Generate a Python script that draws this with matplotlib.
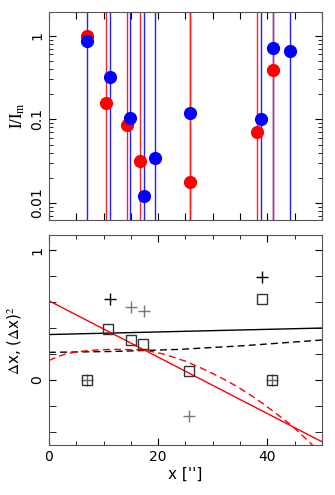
import numpy as np
import matplotlib
matplotlib.use("Agg")
import matplotlib.pyplot as plt
from matplotlib.ticker import MultipleLocator, FixedLocator, FixedFormatter, LogLocator, NullFormatter

plt.rcParams['font.family'] = ['DejaVu Sans']
plt.rcParams['mathtext.fontset'] = 'stix'

# top panel: line positions and intensities
blue_x = [6.9, 11.2, 14.9, 17.4, 19.5, 25.8, 38.9, 41.0, 44.1]
blue_i = [0.87, 0.32, 0.105, 0.0122, 0.035, 0.12, 0.10, 0.71, 0.65]
red_x = [6.9, 10.4, 14.3, 16.7, 25.8, 38.1, 41.0]
red_i = [1.0, 0.156, 0.086, 0.032, 0.018, 0.071, 0.39]
red_lines = [10.4, 14.3, 16.7, 25.8, 38.1, 41.0]

# bottom panel: offsets
plus_x = [7.0, 11.2, 15.0, 17.4, 25.6, 39.0, 40.9]
plus_y = [0.0, 0.623, 0.559, 0.533, -0.274, 0.795, 0.0]
plus_c = ['#666666', 'black', '#777777', '#777777', '#777777', 'black', '#666666']
sq_x = [7.0, 10.9, 15.0, 17.3, 25.6, 38.95, 40.9]
sq_y = [0.0, 0.39, 0.31, 0.28, 0.067, 0.626, 0.0]

# fitted curves
blk_solid_x = [0, 50]
blk_solid_y = [0.35, 0.40]
blk_dash_x = [0, 12, 24, 36, 50]
blk_dash_y = [0.213, 0.22, 0.236, 0.265, 0.308]
red_solid_x = [0, 50]
red_solid_y = [0.61, -0.475]
red_dash_x = [0, 1.5, 3, 5, 7, 9, 11.5, 14, 17.6, 21, 25, 28, 30, 33, 36, 39, 42, 44, 45.5, 47, 48.5, 50]
red_dash_y = [0.15, 0.178, 0.20, 0.216, 0.226, 0.232, 0.236, 0.235, 0.23, 0.20, 0.145, 0.09, 0.05, -0.015, -0.09, -0.175, -0.27, -0.335, -0.39, -0.45, -0.51, -0.57]

fig = plt.figure(figsize=(3.35, 4.95), dpi=100)
ax1 = fig.add_axes([0.146, 0.556, 0.815, 0.420])
ax2 = fig.add_axes([0.146, 0.101, 0.815, 0.424])

for x in blue_x:
    ax1.axvline(x, color='#2020ff', lw=1.0)
for x in red_lines:
    ax1.axvline(x, color='#ff2020', lw=1.0)
ax1.plot(red_x, red_i, 'o', color='red', ms=9.5, mec='none')
ax1.plot(blue_x, blue_i, 'o', color='blue', ms=9.5, mec='none')
ax1.set_yscale('log')
ax1.set_xlim(0, 50)
ax1.set_ylim(0.0063, 1.93)
ax1.xaxis.set_major_locator(MultipleLocator(5))
ax1.xaxis.set_major_formatter(NullFormatter())
ax1.yaxis.set_major_locator(FixedLocator([0.01, 0.1, 1]))
ax1.yaxis.set_major_formatter(FixedFormatter(['0.01', '0.1', '1']))
ax1.yaxis.set_minor_locator(LogLocator(base=10, subs=np.arange(2, 10)))
ax1.yaxis.set_minor_formatter(NullFormatter())
ax1.set_ylabel(r'$\mathrm{I/I_m}$', fontsize=12, labelpad=2)

ax2.plot(blk_solid_x, blk_solid_y, color='black', lw=1)
ax2.plot(blk_dash_x, blk_dash_y, color='black', lw=1, ls=(0, (5, 3)))
ax2.plot(red_solid_x, red_solid_y, color='red', lw=1)
ax2.plot(red_dash_x, red_dash_y, color='red', lw=1, ls=(0, (5, 3)))
for x, y, c in zip(plus_x, plus_y, plus_c):
    ax2.plot(x, y, '+', color=c, ms=8, mew=1)
ax2.plot(sq_x, sq_y, 's', mfc='none', mec='#333333', ms=7.5, mew=1)
ax2.set_xlim(0, 50)
ax2.set_ylim(-0.5, 1.115)
ax2.xaxis.set_major_locator(MultipleLocator(20))
ax2.xaxis.set_minor_locator(MultipleLocator(5))
ax2.yaxis.set_major_locator(FixedLocator([0, 1]))
ax2.yaxis.set_minor_locator(MultipleLocator(0.2))
ax2.set_xlabel("x ['']", fontsize=11, labelpad=2)
ax2.set_ylabel(r'$\Delta$x, ($\Delta$x)$^2$', fontsize=11, labelpad=4)

for ax in (ax1, ax2):
    ax.tick_params(which='both', direction='in', top=True, right=True, labelsize=10)
    ax.tick_params(which='major', length=5)
    ax.tick_params(which='minor', length=3)
    ax.tick_params(axis='y', which='minor', length=5 if ax is ax2 else 3)
    for lab in ax.get_yticklabels():
        lab.set_rotation(90)
        lab.set_va('center')
    for s in ax.spines.values():
        s.set_color('#555555')

fig.savefig('out.png', dpi=100)
